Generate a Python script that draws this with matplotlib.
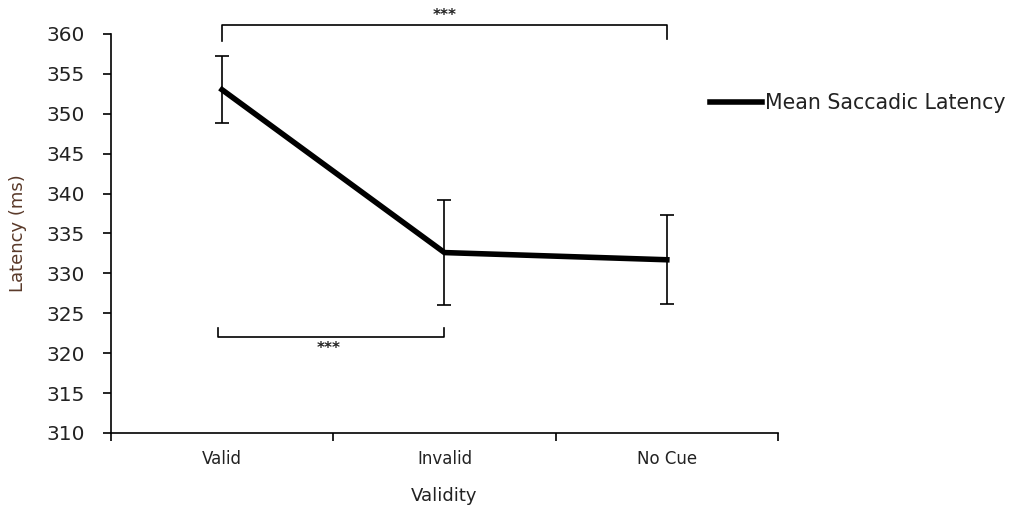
import matplotlib.pyplot as plt
from matplotlib.lines import Line2D
import numpy as np

# data
conditions = ["Valid", "Invalid", "No Cue"]
mean_latency = [353.0, 332.6, 331.7]
latency_err = [4.2, 6.6, 5.6]

# significance brackets: (left index, right index, level, label)
sig_pairs = [(0, 2, 361.1, "***"), (0, 1, 322.0, "***")]

plt.rcParams["font.family"] = ["DejaVu Sans"]
txt = "#222222"

fig = plt.figure(figsize=(10.36, 5.13), dpi=100)
ax = fig.add_axes([0.107, 0.156, 0.644, 0.778])

x = np.arange(len(conditions))
ax.errorbar(x, mean_latency, yerr=latency_err, color="black", lw=4,
            elinewidth=1.2, capsize=5, capthick=1.2, zorder=3)

# brackets
for i, j, level, label in sig_pairs:
    if level > 340:
        ax.plot([x[i], x[i], x[j], x[j]], [level - 2, level, level, level - 1.7],
                color="black", lw=1.2, clip_on=False)
        ax.text((x[i] + x[j]) / 2, level + 0.3, label, ha="center", va="bottom",
                fontsize=11, fontweight="bold", color=txt, clip_on=False)
    else:
        ax.plot([x[i] - 0.02, x[i] - 0.02, x[j], x[j]], [level + 1.2, level, level, level + 1.2],
                color="black", lw=1.2)
        ax.text((x[i] + x[j]) / 2 - 0.02, level - 0.5, label, ha="center", va="top",
                fontsize=11, fontweight="bold", color=txt)

ax.set_xlim(-0.5, len(conditions) - 0.5)
ax.set_ylim(310, 360)
ax.set_yticks(np.arange(310, 361, 5))
ax.set_xticks(x)
ax.set_xticklabels(conditions)
ax.set_xticks(np.arange(-0.5, len(conditions), 1.0), minor=True)

ax.tick_params(axis="x", which="major", length=0, pad=12, labelsize=12, labelcolor=txt)
ax.tick_params(axis="x", which="minor", length=6, width=1.2, direction="out")
ax.tick_params(axis="y", length=6, width=1.2, direction="out", pad=13,
               labelsize=14.5, labelcolor=txt)

for s in ["top", "right"]:
    ax.spines[s].set_visible(False)
for s in ["left", "bottom"]:
    ax.spines[s].set_linewidth(1.2)

ax.set_xlabel("Validity", fontsize=13, color=txt, labelpad=14)
ax.set_ylabel("Latency (ms)", fontsize=13, color="#5a3a2a", labelpad=14)

handle = Line2D([], [], color="black", lw=4)
fig.legend([handle], ["Mean Saccadic Latency"], loc="center left",
           bbox_to_anchor=(0.685, 0.799), frameon=False, fontsize=14.8,
           handlelength=2.55, handletextpad=0.15, borderpad=0, borderaxespad=0,
           labelcolor=txt)

fig.savefig("out.png", dpi=100)
